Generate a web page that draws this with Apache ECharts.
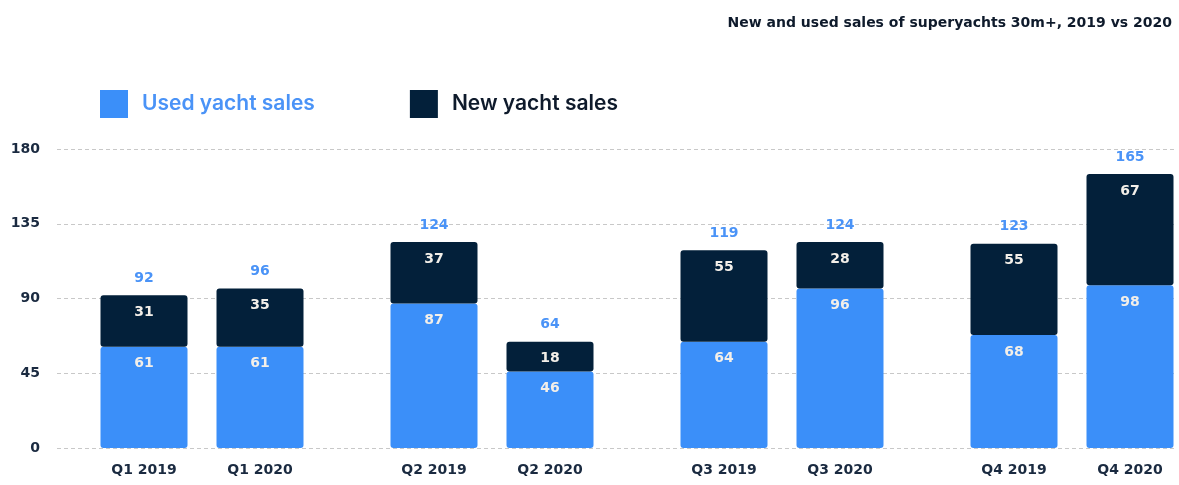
<!DOCTYPE html>
<html>
<head>
<meta charset="utf-8">
<script src="https://cdn.jsdelivr.net/npm/echarts@6/dist/echarts.min.js"></script>
<style>
  html, body { margin: 0; padding: 0; background: #fff; }
  #chart { width: 1179px; height: 485px; }
</style>
</head>
<body>
<div id="chart"></div>
<script>
// data
const categories = ['Q1 2019', 'Q1 2020', 'Q2 2019', 'Q2 2020', 'Q3 2019', 'Q3 2020', 'Q4 2019', 'Q4 2020'];
const usedSales = [61, 61, 87, 46, 64, 96, 68, 98];
const newSales = [31, 35, 37, 18, 55, 28, 55, 67];
const totals = [92, 96, 124, 64, 119, 124, 123, 165];
const yTicks = [0, 45, 90, 135, 180];

// slot index of each bar on the 18-slot axis (pairs with gaps between quarters)
const slots = [0, 2, 5, 7, 10, 12, 15, 17];
const SLOT_COUNT = 18;

const BLUE = '#3b8ff9';
const DARK = '#03203a';
const FONT = '"DejaVu Sans", sans-serif';

function spread(values, empty) {
    const out = new Array(SLOT_COUNT).fill(empty);
    slots.forEach((s, i) => out[s] = values[i]);
    return out;
}

const slotLabels = spread(categories, '');
const totalLabels = spread(totals, '');
const chart = echarts.init(document.getElementById('chart'));

const innerLabel = {
    show: true,
    position: 'insideTop',
    distance: 10,
    color: '#f3efe9',
    fontFamily: FONT,
    fontWeight: 'bold',
    fontSize: 14
};

chart.setOption({
    animation: false,
    title: {
        text: 'New and used sales of superyachts 30m+, 2019 vs 2020',
        right: 2,
        top: 11,
        textStyle: { fontFamily: FONT, fontWeight: 'bold', fontSize: 14, color: '#0e1a2b' }
    },
    legend: {
        left: 95,
        top: 85,
        itemWidth: 28,
        itemHeight: 28,
        itemGap: 95,
        icon: 'rect',
        selectedMode: false,
        data: [
            { name: 'Used yacht sales', textStyle: { color: '#4a93f7' } },
            { name: 'New yacht sales', textStyle: { color: '#0e1a2b' } }
        ],
        textStyle: { fontFamily: 'Inter, sans-serif', fontSize: 21, fontWeight: 600, padding: [0, 0, 0, 9] }
    },
    grid: [
        { left: 57, right: 4, top: 149, bottom: 37 },
        { left: 115, width: 58 * SLOT_COUNT, top: 149, bottom: 37 }
    ],
    xAxis: [
        { gridIndex: 0, type: 'value', show: false },
        {
            gridIndex: 1,
            type: 'category',
            data: slotLabels,
            axisLine: { show: false },
            axisTick: { show: false },
            axisLabel: {
                interval: 0,
                margin: 15,
                color: '#1a2a40',
                fontFamily: FONT,
                fontWeight: 'bold',
                fontSize: 14
            }
        }
    ],
    yAxis: [
        {
            gridIndex: 0,
            type: 'value',
            min: yTicks[0],
            max: yTicks[yTicks.length - 1],
            interval: 45,
            axisLine: { show: false },
            axisTick: { show: false },
            axisLabel: {
                margin: 17,
                color: '#1a2a40',
                fontFamily: FONT,
                fontWeight: 'bold',
                fontSize: 14
            },
            splitLine: { lineStyle: { color: '#c8c8c8', type: [4, 3], width: 1 } }
        },
        {
            gridIndex: 1,
            type: 'value',
            min: yTicks[0],
            max: yTicks[yTicks.length - 1],
            show: false,
            splitLine: { show: false }
        }
    ],
    series: [
        {
            name: 'Used yacht sales',
            type: 'bar',
            xAxisIndex: 1,
            yAxisIndex: 1,
            stack: 'sales',
            barWidth: 87,
            clip: false,
            data: spread(usedSales, '-'),
            itemStyle: { color: BLUE, borderRadius: 3 },
            label: innerLabel
        },
        {
            name: 'New yacht sales',
            type: 'bar',
            xAxisIndex: 1,
            yAxisIndex: 1,
            stack: 'sales',
            barWidth: 87,
            clip: false,
            data: spread(newSales, '-'),
            itemStyle: { color: DARK, borderRadius: 3 },
            label: innerLabel
        },
        {
            name: 'Total',
            type: 'bar',
            xAxisIndex: 1,
            yAxisIndex: 1,
            stack: 'sales',
            barWidth: 87,
            clip: false,
            data: spread(totals.map(() => 0), '-'),
            itemStyle: { color: 'transparent' },
            label: {
                show: true,
                position: 'top',
                distance: 10,
                formatter: p => totalLabels[p.dataIndex],
                color: '#4a93f7',
                fontFamily: FONT,
                fontWeight: 'bold',
                fontSize: 14
            }
        }
    ]
});
</script>
</body>
</html>
